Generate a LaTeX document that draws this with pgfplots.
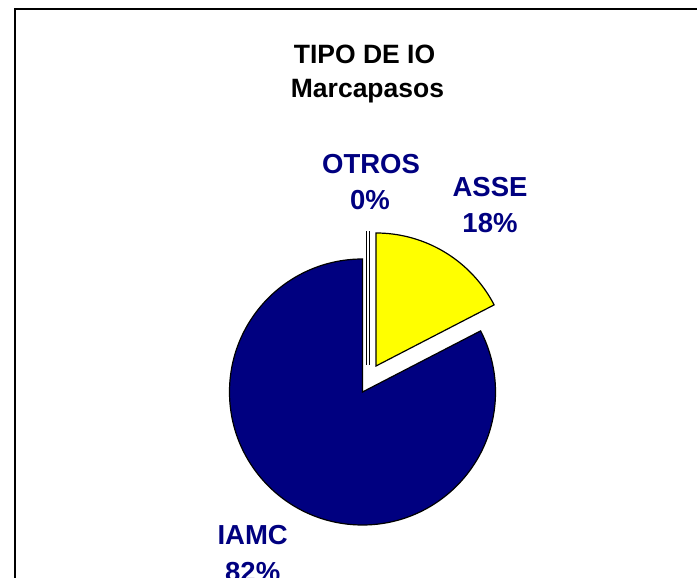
\documentclass[border=0pt]{standalone}
\usepackage{pgfplots}
\pgfplotsset{compat=1.18}
\usepackage{pgfplotstable}
\usepackage{fontspec}
\setmainfont{Liberation Sans}
\definecolor{navyc}{RGB}{0,0,128}
\definecolor{yel}{RGB}{255,255,0}
\pgfplotstableread{
name value
IAMC 82.6
ASSE 17.4
OTROS 0
}\piedata
\begin{document}
\begin{tikzpicture}
\pgfplotstablegetelem{0}{value}\of\piedata
\pgfmathsetmacro{\vIAMC}{\pgfplotsretval}
\pgfplotstablegetelem{1}{value}\of\piedata
\pgfmathsetmacro{\vASSE}{\pgfplotsretval}
\pgfmathsetmacro{\endIAMC}{90+3.6*\vIAMC}
\pgfmathsetmacro{\endASSE}{90-3.6*\vASSE}
\begin{axis}[x=1pt,y=1pt,xmin=0,xmax=697,ymin=0,ymax=578,hide axis,clip=false,anchor=south west,at={(0,0)}]
\coordinate (bl) at (axis cs:0,0);
\coordinate (tr) at (axis cs:697,578);
\draw[line width=2pt] (axis cs:15,-20) rectangle (axis cs:720,569);
% IAMC slice
\draw[fill=navyc, line width=1.2pt, line join=miter] (axis cs:362.5,186) -- ++(90:133pt) arc[start angle=90, end angle=\endIAMC, radius=133pt] -- cycle;
% ASSE slice (exploded)
\draw[fill=yel, line width=1.2pt, line join=miter] (axis cs:376,212) -- ++(90:133pt) arc[start angle=90, end angle=\endASSE, radius=133pt] -- cycle;
% OTROS slice (0%, exploded)
\draw[line width=1pt] (axis cs:366.5,213) -- (axis cs:366.5,347);
\draw[line width=1pt] (axis cs:369.2,213) -- (axis cs:369.2,347);
% title
\node[anchor=base, font=\fontsize{26.5}{30}\selectfont\bfseries] at (axis cs:364.5,514) {TIPO DE IO};
\node[anchor=base, font=\fontsize{26.5}{30}\selectfont\bfseries] at (axis cs:367.5,480) {Marcapasos};
% labels
\node[anchor=base, text=navyc, font=\fontsize{27.5}{30}\selectfont\bfseries] at (axis cs:371,404.7) {OTROS};
\node[anchor=base, text=navyc, font=\fontsize{27.5}{30}\selectfont\bfseries] at (axis cs:370,368) {0\%};
\node[anchor=base, text=navyc, font=\fontsize{27.5}{30}\selectfont\bfseries] at (axis cs:490,381.3) {ASSE};
\node[anchor=base, text=navyc, font=\fontsize{27.5}{30}\selectfont\bfseries] at (axis cs:490,345) {18\%};
\node[anchor=base, text=navyc, font=\fontsize{27.5}{30}\selectfont\bfseries] at (axis cs:252.7,33) {IAMC};
\node[anchor=base, text=navyc, font=\fontsize{27.5}{30}\selectfont\bfseries] at (axis cs:252.7,-4) {82\%};
\end{axis}
\pgfresetboundingbox
\path[use as bounding box] (bl) rectangle (tr);
\end{tikzpicture}
\end{document}
